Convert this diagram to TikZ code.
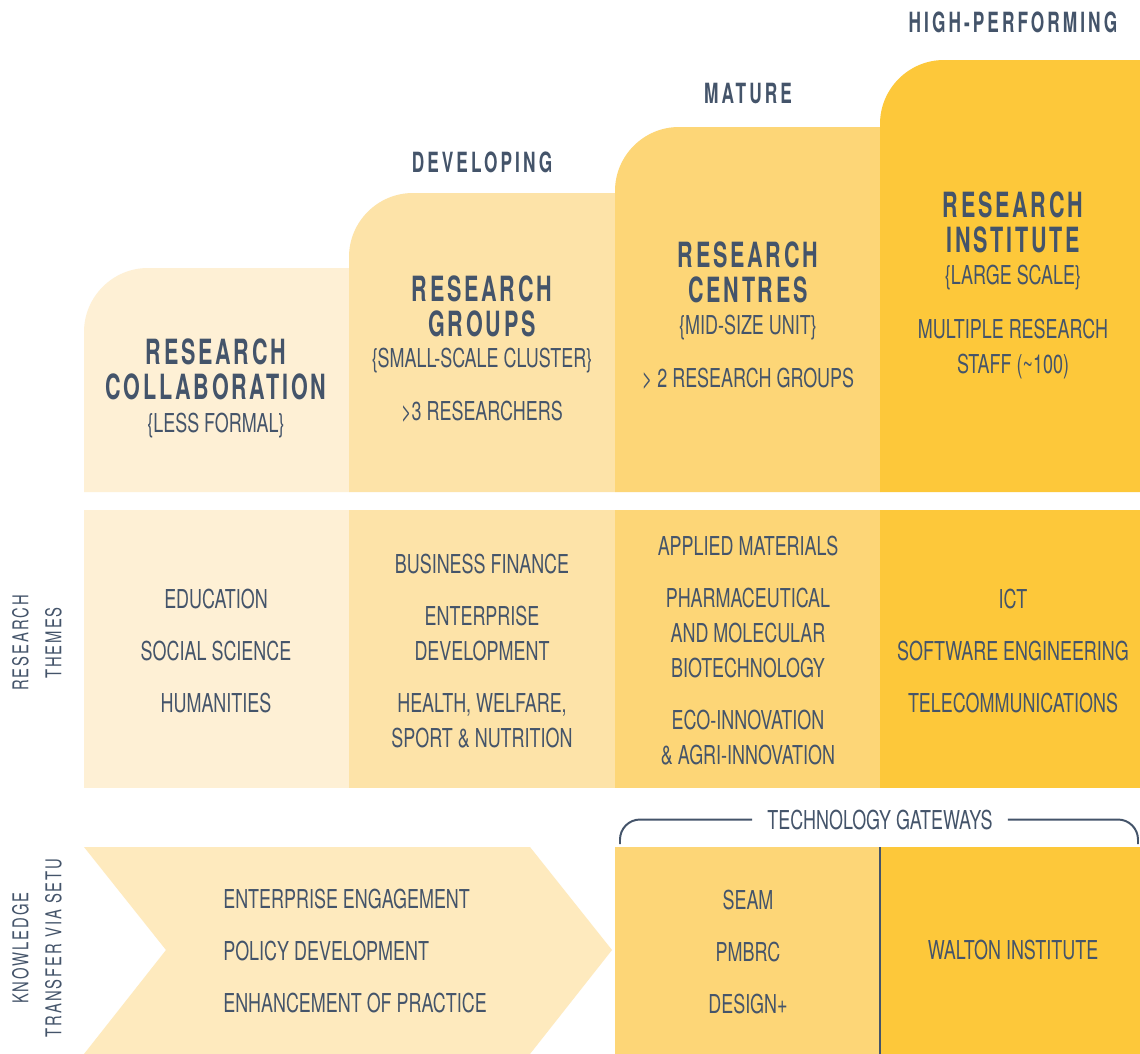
\documentclass[tikz,border=0pt]{standalone}
\usepackage{fontspec}
\setmainfont{TeX Gyre Heros}
\newfontfamily\lightfont{TeX Gyre Heros}[FakeStretch=0.69]
\newfontfamily\sidefont{TeX Gyre Heros}[FakeStretch=0.68,LetterSpace=9]
\newfontfamily\titlefont{TeX Gyre Heros}[FakeStretch=0.62,LetterSpace=8]
\newfontfamily\stagefont{TeX Gyre Heros}[FakeStretch=0.62,LetterSpace=11]
\definecolor{tierA}{HTML}{FEF0D5}
\definecolor{tierB}{HTML}{FDE3A8}
\definecolor{tierC}{HTML}{FDD677}
\definecolor{tierD}{HTML}{FDC83A}
\definecolor{chevfill}{HTML}{FEEABE}
\definecolor{slate}{HTML}{44546A}
\begin{document}
\begin{tikzpicture}[x=0.025cm,y=-0.025cm,
  every node/.style={text=slate,inner sep=0pt},
  stage/.style={font={\stagefont\bfseries\fontsize{19.8}{24}\selectfont},anchor=base},
  title/.style={font={\titlefont\bfseries\fontsize{24.7}{24.9}\selectfont},align=center,anchor=north},
  item/.style={font={\lightfont\fontsize{18.5}{24.9}\selectfont},align=center,anchor=north},
  sub/.style={font={\lightfont\fontsize{18.5}{24.9}\selectfont},anchor=base},
  side/.style={font={\sidefont\fontsize{15.5}{23.4}\selectfont},align=center,rotate=90},
  bracket/.style={draw=slate,line width=1.4pt,rounded corners=0.5cm}]
\fill[white] (0,0) rectangle (1140,1054);
\useasboundingbox (0,0) rectangle (1140,1054);

% stage columns, top row with rounded top-left corner
\foreach \l/\r/\t/\c in {84/349/268/tierA,349/615/193/tierB,615/880/127/tierC,880/1140/60/tierD}{
  \fill[\c] (\l,492) -- (\l,\t+64) .. controls (\l,\t+28.7) and (\l+28.7,\t) .. (\l+64,\t) -- (\r,\t) -- (\r,492) -- cycle;
  \fill[\c] (\l,510) rectangle (\r,788);
}

% knowledge transfer chevron and gateways
\fill[chevfill] (84,847) -- (530,847) -- (612,950) -- (530,1054) -- (84,1054) -- (166,950) -- cycle;
\fill[tierC] (615,847) rectangle (880,1054);
\fill[tierD] (880,847) rectangle (1140,1054);
\draw[slate,line width=1pt] (880,847) -- (880,1054);

% stage headers
\node[stage] (developing) at (482,172) {DEVELOPING};
\node[stage] (mature) at (748,103) {MATURE};
\node[stage] (highperf) at (1013,32) {HIGH-PERFORMING};

% top row
\node[title] (collab) at (216,338.5) {RESEARCH\\COLLABORATION};
\node[sub] (collabsub) at (216,432) {\{LESS FORMAL\}};
\node[title] (groups) at (482,275.5) {RESEARCH\\GROUPS};
\node[sub] (groupssub) at (482,367) {\{SMALL-SCALE CLUSTER\}};
\node[sub] (groupsize) at (482,420) {>3 RESEARCHERS};
\node[title] (centres) at (748,241.5) {RESEARCH\\CENTRES};
\node[sub] (centressub) at (748,334) {\{MID-SIZE UNIT\}};
\node[sub] (centresize) at (748,387) {> 2 RESEARCH GROUPS};
\node[title] (institute) at (1013,191.5) {RESEARCH\\INSTITUTE};
\node[sub] (institutesub) at (1013,284) {\{LARGE SCALE\}};
\node[item] (institutesize) at (1013,318.5) {MULTIPLE RESEARCH\\STAFF (\textasciitilde 100)};

% research themes
\node[side] (themeslbl) at (37,643) {RESEARCH\\THEMES};
\node[item] (themesA) at (216,589) {EDUCATION\\[12pt]SOCIAL SCIENCE\\[12pt]HUMANITIES};
\node[item] (themesB) at (482,554) {BUSINESS FINANCE\\[12pt]ENTERPRISE\\DEVELOPMENT\\[12pt]HEALTH, WELFARE,\\SPORT \& NUTRITION};
\node[item] (themesC) at (748,536) {APPLIED MATERIALS\\[12pt]PHARMACEUTICAL\\AND MOLECULAR\\BIOTECHNOLOGY\\[12pt]ECO-INNOVATION\\\& AGRI-INNOVATION};
\node[item] (themesD) at (1013,589) {ICT\\[12pt]SOFTWARE ENGINEERING\\[12pt]TELECOMMUNICATIONS};

% knowledge transfer
\node[side] (transferlbl) at (37,948) {KNOWLEDGE\\TRANSFER VIA SETU};
\node[item,align=left,anchor=north west] (transfer) at (223,889) {ENTERPRISE ENGAGEMENT\\[12pt]POLICY DEVELOPMENT\\[12pt]ENHANCEMENT OF PRACTICE};
\node[sub,inner xsep=0.375cm] (gateways) at (880,829) {TECHNOLOGY GATEWAYS};
\draw[bracket] (620,844) |- (gateways.west);
\draw[bracket] (1138,844) |- (gateways.east);
\node[item] (gwcentres) at (748,890) {SEAM\\[12pt]PMBRC\\[12pt]DESIGN+};
\node[sub] (gwinstitute) at (1013,959) {WALTON INSTITUTE};
\end{tikzpicture}
\end{document}
